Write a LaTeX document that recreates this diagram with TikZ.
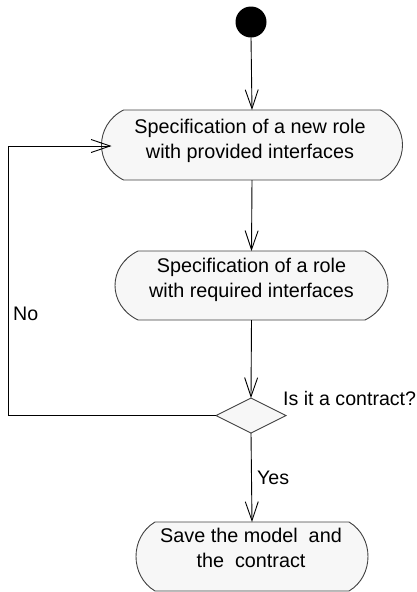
\documentclass[tikz,border=0pt]{standalone}
\usepackage{fontspec}
\setmainfont{Liberation Sans}
\usetikzlibrary{arrows.meta,shapes.geometric,backgrounds}
\tikzset{
  flow/.style={draw=black, line width=0.9pt, -{Straight Barb[length=19pt,width=13pt,line width=0.9pt]}},
  actarea/.style={inner sep=0pt, outer sep=0pt, draw=none, rectangle},
  actline/.style={draw=black!75, fill=black!3, line width=0.9pt},
  lbl/.style={font=\fontsize{19.8}{25}\selectfont, align=center, inner sep=0pt, anchor=base},
  note/.style={font=\fontsize{19.6}{25}\selectfont, inner sep=0pt, anchor=base west},
  startnode/.style={circle, fill=black, minimum size=31pt, inner sep=0pt, outer sep=0pt},
  decision/.style={diamond, draw=black!75, fill=black!3, line width=0.9pt, minimum width=70pt, minimum height=35pt, inner sep=0pt, outer sep=0pt}
}
\newcommand{\actoutline}[3]{%
  \draw[actline] ([xshift=#2]#1.north west) -- ([xshift=-#2]#1.north east)
    .. controls ([xshift=#2/3,yshift=-#3]#1.north east) and ([xshift=#2/3,yshift=#3]#1.south east) .. ([xshift=-#2]#1.south east)
    -- ([xshift=#2]#1.south west)
    .. controls ([xshift=-#2/3,yshift=#3]#1.south west) and ([xshift=-#2/3,yshift=-#3]#1.north west) .. cycle;}
\begin{document}
\begin{tikzpicture}[x=1pt,y=-1pt]
\useasboundingbox (0,0) rectangle (416,592);
\node[startnode] (start) at (251,22) {};
\node[actarea, minimum width=301pt, minimum height=70pt] (b1) at (252,145) {};
\node[actarea, minimum width=273pt, minimum height=69pt] (b2) at (251.5,285.5) {};
\node[decision] (dec) at (251,415.5) {};
\node[actarea, minimum width=232pt, minimum height=69pt] (b3) at (252,556.5) {};
\begin{scope}[on background layer]
  \actoutline{b1}{22}{15}
  \actoutline{b2}{23}{15}
  \actoutline{b3}{19}{15}
\end{scope}
\node[lbl] (t1) at ([xshift=-2pt,yshift=-13pt]b1.center) {Specification of a new role\\with provided interfaces};
\node[lbl] (t2) at ([yshift=-11.5pt]b2.center) {Specification of a role\\with required interfaces};
\node[lbl] (t3) at ([xshift=-1pt,yshift=-10.5pt]b3.center) {Save the model\ \ and\\the\ \ contract};
\node[note] (q) at (283,405) {Is it a contract?};
\node[note] (no) at (13,320) {No};
\node[note] (yes) at (257,484) {Yes};
\coordinate (loopend) at ([xshift=10pt,yshift=-1pt]b1.west);
\coordinate (c1) at (8,415.5);
\coordinate (c2) at (8,146);
\draw[flow] (start.south) -- (b1.north);
\draw[flow] (b1.south) -- (b2.north);
\draw[flow] (b2.south) -- (dec.north);
\draw[flow] (dec.south) -- (b3.north);
\draw[flow] (dec.west) -- (c1) -- (c2) -- (loopend);
\end{tikzpicture}
\end{document}
